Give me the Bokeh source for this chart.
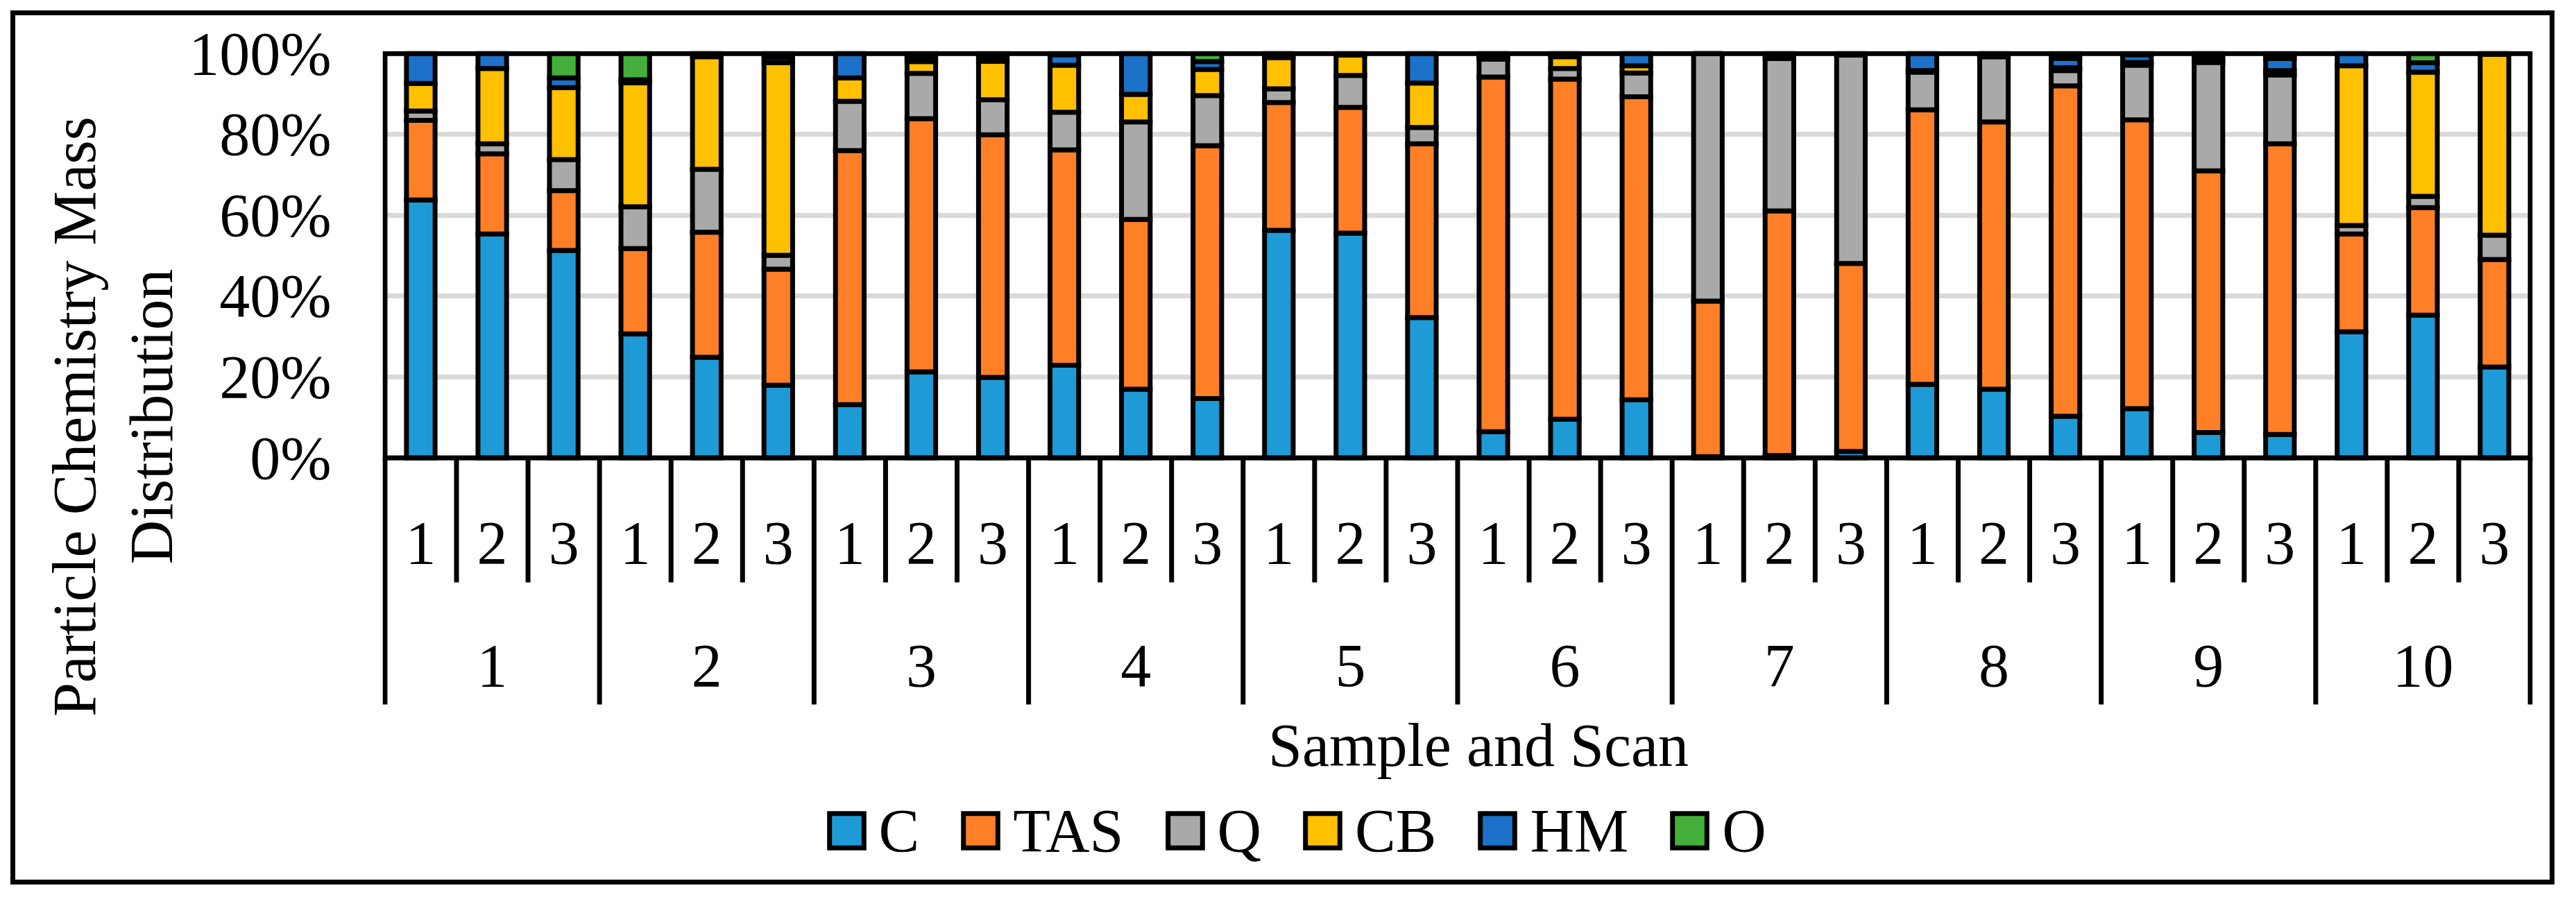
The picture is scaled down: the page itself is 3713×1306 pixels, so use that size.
from bokeh.plotting import figure
from bokeh.layouts import column
from bokeh.models import (ColumnDataSource, FactorRange, Range1d, FixedTicker,
                          PrintfTickFormatter, Legend, LegendItem)
from bokeh.core.properties import value
from bokeh.embed import file_html
from bokeh.resources import INLINE

# ---------------- data ----------------
SAMPLES = ["1", "2", "3", "4", "5", "6", "7", "8", "9", "10"]
SCANS = ["1", "2", "3"]
SERIES = ["C", "TAS", "Q", "CB", "HM", "O"]
COLORS = ["#1E9BD7", "#FF7F27", "#A9A9A9", "#FFC000", "#1B72C8", "#45AF3B"]

C   = [63.8, 55.4, 51.3, 30.7, 24.9, 18.0, 13.2, 21.3, 19.9, 22.9, 17.0, 14.7, 56.3, 55.6, 34.7,
       6.5, 9.6, 14.4, 0.3, 0.6, 1.6, 18.2, 17.0, 10.3, 12.2, 6.3, 5.8, 31.2, 35.3, 22.5]
TAS = [19.7, 19.8, 14.8, 21.1, 30.9, 28.7, 62.8, 62.6, 60.0, 53.3, 42.0, 62.5, 31.6, 31.1, 43.0,
       87.7, 84.1, 74.9, 38.5, 60.5, 46.5, 67.9, 66.1, 81.7, 71.4, 64.7, 71.9, 24.2, 26.6, 26.6]
Q   = [2.3, 2.5, 7.7, 10.3, 15.6, 3.4, 12.2, 11.2, 8.7, 9.3, 24.1, 12.4, 3.4, 7.9, 4.0,
       4.4, 2.6, 5.9, 61.2, 37.7, 51.5, 9.3, 16.1, 3.8, 13.5, 26.8, 17.0, 2.1, 2.8, 6.0]
CB  = [6.8, 18.6, 17.8, 30.7, 27.8, 47.6, 5.8, 2.9, 9.5, 11.6, 6.8, 6.5, 7.7, 5.0, 11.0,
       0.7, 2.9, 1.8, 0.0, 0.0, 0.0, 0.4, 0.0, 0.7, 0.7, 1.0, 1.1, 39.5, 30.7, 44.7]
HM  = [7.4, 3.7, 2.4, 0.7, 0.8, 1.3, 6.0, 1.0, 1.0, 2.6, 10.1, 1.9, 1.0, 0.4, 7.3,
       0.7, 0.8, 3.0, 0.0, 1.2, 0.4, 4.2, 0.8, 2.3, 1.9, 1.2, 3.0, 3.0, 2.3, 0.2]
O   = [0.0, 0.0, 6.0, 6.5, 0.0, 1.0, 0.0, 1.0, 0.9, 0.3, 0.0, 2.0, 0.0, 0.0, 0.0,
       0.0, 0.0, 0.0, 0.0, 0.0, 0.0, 0.0, 0.0, 1.2, 0.3, 0.0, 1.2, 0.0, 2.3, 0.0]

Y_TICKS = [0, 20, 40, 60, 80, 100]
Y_TITLE = "Particle Chemistry Mass\nDistribution"
X_TITLE = "Sample and Scan"

# ---------------- layout (page pixels) ----------------
W, H = 3697, 1290          # whole layout
H1 = 1128                  # main figure height, legend strip below
OFF = 8
PLOT_L, PLOT_R, PLOT_T, PLOT_B = 562.4, 3654.5, 84.7, 667.6
FRAME_B = 1135
EDGE = 3.6
TEXT_DY = 25               # svg text baseline correction
LEG_DY = 25                # legend vertical correction
FONT = "Liberation Serif"
FS = "88px"
LW = 7

FACTORS = [(s, sc) for s in SAMPLES for sc in SCANS]
n = len(FACTORS)
cat_px = (PLOT_R - PLOT_L) / n
mb_left = round(PLOT_L - EDGE - OFF)
mb_right = round(W - (PLOT_R + EDGE - OFF))
mb_top = round(PLOT_T - EDGE - OFF)
mb_bottom = round(H1 - (FRAME_B - OFF))
fw = W - mb_left - mb_right
fh = H1 - mb_top - mb_bottom
rp = fw / cat_px / n - 1
ppu = (PLOT_B - PLOT_T) / 100.0
y_end = 100 + (PLOT_T - (mb_top + OFF)) / ppu
y_start = y_end - fh / ppu


def y_at(py):
    return (PLOT_B - py) / ppu


x_range = FactorRange(*FACTORS, factor_padding=0, subgroup_padding=0, group_padding=0,
                      range_padding=rp, range_padding_units="percent")

p = figure(x_range=x_range, y_range=Range1d(y_start, y_end), width=W, height=H1,
           output_backend="svg", toolbar_location=None, x_axis_location=None,
           min_border_left=mb_left, min_border_right=mb_right,
           min_border_top=mb_top, min_border_bottom=mb_bottom)
p.outline_line_color = None
p.background_fill_color = None
p.border_fill_color = None
p.xgrid.visible = False

# y axis
p.yaxis.ticker = FixedTicker(ticks=Y_TICKS)
p.yaxis.formatter = PrintfTickFormatter(format="%d%%")
p.yaxis.axis_line_color = None
p.yaxis.major_tick_line_color = None
p.yaxis.minor_tick_line_color = None
p.yaxis.major_tick_out = 0
p.yaxis.major_tick_in = 0
p.yaxis.major_label_standoff = 74
p.yaxis.major_label_text_font = FONT
p.yaxis.major_label_text_font_size = FS
p.yaxis.major_label_text_color = "black"
p.yaxis.axis_label = Y_TITLE
p.yaxis.axis_label_text_font = FONT
p.yaxis.axis_label_text_font_size = FS
p.yaxis.axis_label_text_font_style = "normal"
p.yaxis.axis_label_text_color = "black"
p.yaxis.axis_label_text_line_height = 1.15
p.yaxis.axis_label_standoff = 2

p.ygrid.ticker = FixedTicker(ticks=Y_TICKS)
p.ygrid.grid_line_color = "#D9D9D9"
p.ygrid.grid_line_width = LW

# stacked bars
src = ColumnDataSource(dict(x=FACTORS, C=C, TAS=TAS, Q=Q, CB=CB, HM=HM, O=O))
bar_style = dict(line_color="black", line_width=LW, line_join="miter")
rends = p.vbar_stack(SERIES, x="x", width=0.4, source=src, fill_color=COLORS, **bar_style)

# plot-area border
p.quad(left=[(FACTORS[0][0], FACTORS[0][1], -0.5)], right=[(FACTORS[-1][0], FACTORS[-1][1], 0.5)],
       bottom=[Y_TICKS[0]], top=[Y_TICKS[-1]], fill_color=None, line_color="black",
       line_width=LW, line_join="miter")

# category table separators
Y_SCAN_SEP = y_at(847)
Y_SAMPLE_SEP = y_at(1023)
sx, sy = [], []
for s in SAMPLES:
    sx.append((s, SCANS[0], -0.5))
    sy.append(Y_SAMPLE_SEP)
    for sc in SCANS[:-1]:
        sx.append((s, sc, 0.5))
        sy.append(Y_SCAN_SEP)
sx.append((SAMPLES[-1], SCANS[-1], 0.5))
sy.append(Y_SAMPLE_SEP)
p.segment(x0="x", y0=0, x1="x", y1="y1", source=ColumnDataSource(dict(x=sx, y1=sy)),
          line_color="black", line_width=LW, line_cap="butt")

txt = dict(text_font=value(FONT), text_font_size=value(FS), text_color="black",
           text_align="center", text_baseline="alphabetic")
p.text(x=FACTORS, y=[y_at(815 - TEXT_DY)] * n, text=[f[1] for f in FACTORS], **txt)
p.text(x=[(s, SCANS[len(SCANS) // 2]) for s in SAMPLES], y=[y_at(992.7 - TEXT_DY)] * len(SAMPLES),
       text=SAMPLES, **txt)
mid = FACTORS[n // 2]
p.text(x=[(mid[0], mid[1], -0.5)], y=[y_at(1106.7 - TEXT_DY)], text=[X_TITLE], x_offset=30, **txt)

# legend strip: a second figure sharing the categories; its (hidden) bar renderers
# only serve as legend entries
H2 = H - H1
q = figure(width=W, height=H2, output_backend="svg", toolbar_location=None,
           x_axis_location=None, y_axis_location=None, x_range=x_range,
           y_range=Range1d(0, 100), min_border=0)
q.outline_line_color = None
q.background_fill_color = None
q.border_fill_color = None
q.grid.visible = False
legend_rends = q.vbar_stack(SERIES, x="x", width=0.4, source=src, fill_color=COLORS, **bar_style)
for r in legend_rends:
    r.visible = False

LEG_H = 62
q_bottom_page = OFF + H
legend = Legend(items=[LegendItem(label=nm, renderers=[r]) for nm, r in zip(SERIES, legend_rends)],
                orientation="horizontal",
                location=(1196.6 - (mb_left + OFF), q_bottom_page - (1168.5 + LEG_H) - LEG_DY),
                glyph_width=62, glyph_height=LEG_H, label_height=LEG_H, label_standoff=16,
                spacing=57, padding=0, margin=0, border_line_color=None,
                background_fill_alpha=0, inactive_fill_alpha=0, label_text_font=FONT,
                label_text_font_size=FS, label_text_line_height=0.64, label_text_color="black")
q.add_layout(legend)

layout = column(p, q, spacing=0,
                styles={"outline": "7px solid black", "outline-offset": "-22.5px"})

open("out.html", "w").write(file_html(layout, INLINE))
